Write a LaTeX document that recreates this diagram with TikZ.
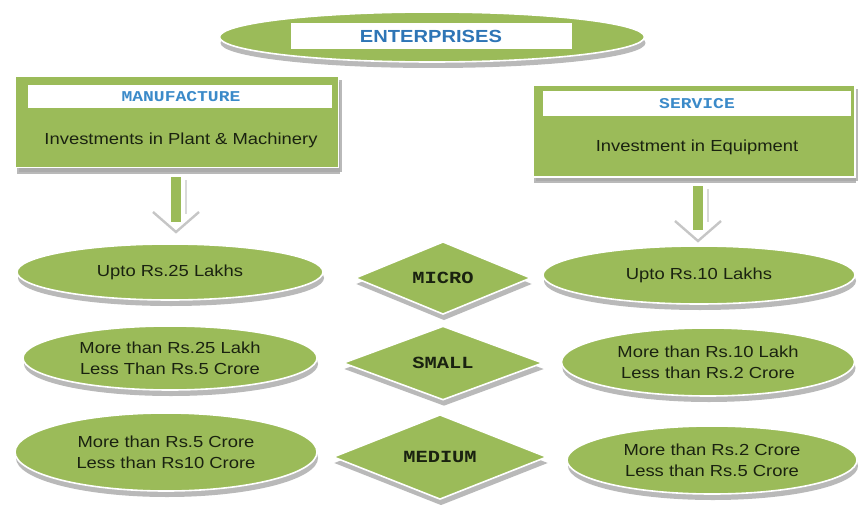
\documentclass[tikz,border=0pt]{standalone}
\usepackage{fontspec}
\usetikzlibrary{shapes.geometric,shadows}
\newfontfamily\bodyfont[FakeStretch=1.15]{Liberation Sans}
\newfontfamily\codefont[FakeStretch=1.2]{Liberation Mono}
\definecolor{leaf}{HTML}{9BBB59}
\definecolor{ink}{HTML}{1A2210}
\definecolor{titleblue}{HTML}{2E75B6}
\definecolor{labelblue}{HTML}{3B8AC9}
\definecolor{rimshade}{HTML}{A8A8A8}
\tikzset{
  x=1pt, y=-1pt,
  greenshape/.style={fill=leaf, draw=white, line width=1.6pt,
    drop shadow={shadow xshift=1pt, shadow yshift=-6pt, fill=rimshade, opacity=0.8}},
  oval/.style={greenshape, ellipse, inner sep=0pt, align=center,
    font=\bodyfont\fontsize{16}{21}\selectfont, text=ink},
  gem/.style={greenshape, diamond, inner sep=0pt,
    font=\codefont\bfseries\fontsize{17}{20}\selectfont, text=ink},
  panel/.style={greenshape, rectangle, inner sep=0pt,
    drop shadow={shadow xshift=3pt, shadow yshift=-4pt, fill=rimshade, opacity=0.8}},
  strip/.style={fill=white, draw=none, rectangle, inner sep=0pt},
  bodytext/.style={font=\bodyfont\fontsize{16}{18}\selectfont, text=ink, inner sep=0pt},
  headtext/.style={font=\codefont\bfseries\fontsize{15}{16}\selectfont, text=labelblue, inner sep=0pt},
  shaft/.style={draw=leaf, line width=10pt},
  chevron/.style={draw=gray!45, line width=2.4pt, line join=miter}
}
\begin{document}
\begin{tikzpicture}
\useasboundingbox[fill=white] (0,0) rectangle (858,505);

% title
\node[greenshape, ellipse, inner sep=0pt, minimum width=425pt, minimum height=50pt] (top) at (432,37) {};
\node[strip, minimum width=281pt, minimum height=26pt] (topstrip) at (431,36) {};
\node[font=\bodyfont\bfseries\fontsize{17.5}{20}\selectfont, text=titleblue, inner sep=0pt] (title) at (431,36) {ENTERPRISES};

% manufacture panel
\node[panel, minimum width=323pt, minimum height=91pt] (manu) at (177,122) {};
\node[strip, minimum width=304pt, minimum height=23pt] (manustrip) at (180,97) {};
\node[headtext] (manuhead) at (181,97) {MANUFACTURE};
\node[bodytext] (manubody) at (181,140) {Investments in Plant \& Machinery};

% service panel
\node[panel, minimum width=322pt, minimum height=92pt] (serv) at (694,131) {};
\node[strip, minimum width=308pt, minimum height=25pt] (servstrip) at (697,104) {};
\node[headtext] (servhead) at (697,104) {SERVICE};
\node[bodytext] (servbody) at (697,147) {Investment in Equipment};

% down arrows
\coordinate (la1) at (176,177);
\coordinate (la2) at (176,222);
\draw[draw=gray!30, line width=2pt] (186,180) -- (186,214);
\draw[shaft] (la1) -- (la2);
\draw[chevron] (153,212) -- (176,232) -- (199,212);

\coordinate (ra1) at (698,186);
\coordinate (ra2) at (698,230);
\draw[draw=gray!30, line width=2pt] (708,189) -- (708,222);
\draw[shaft] (ra1) -- (ra2);
\draw[chevron] (675,221) -- (698,241) -- (721,221);

% manufacture limits
\node[oval, minimum width=306pt, minimum height=56pt] (l1) at (170,272) {Upto Rs.25 Lakhs};
\node[oval, minimum width=294pt, minimum height=64pt] (l2) at (170,358) {More than Rs.25 Lakh\\Less Than Rs.5 Crore};
\node[oval, minimum width=302pt, minimum height=78pt] (l3) at (166,452) {More than Rs.5 Crore\\Less than Rs10 Crore};

% categories
\node[gem, minimum width=176pt, minimum height=64pt] (micro) at (443,278) {MICRO};
\node[gem, minimum width=200pt, minimum height=74pt] (small) at (443,363) {SMALL};
\node[gem, minimum width=214pt, minimum height=74pt] (medium) at (440,457) {MEDIUM};

% service limits
\node[oval, minimum width=312pt, minimum height=58pt] (r1) at (699,275) {Upto Rs.10 Lakhs};
\node[oval, minimum width=293pt, minimum height=68pt] (r2) at (708,362) {More than Rs.10 Lakh\\Less than Rs.2 Crore};
\node[oval, minimum width=290pt, minimum height=68pt] (r3) at (712,460) {More than Rs.2 Crore\\Less than Rs.5 Crore};
\end{tikzpicture}
\end{document}
